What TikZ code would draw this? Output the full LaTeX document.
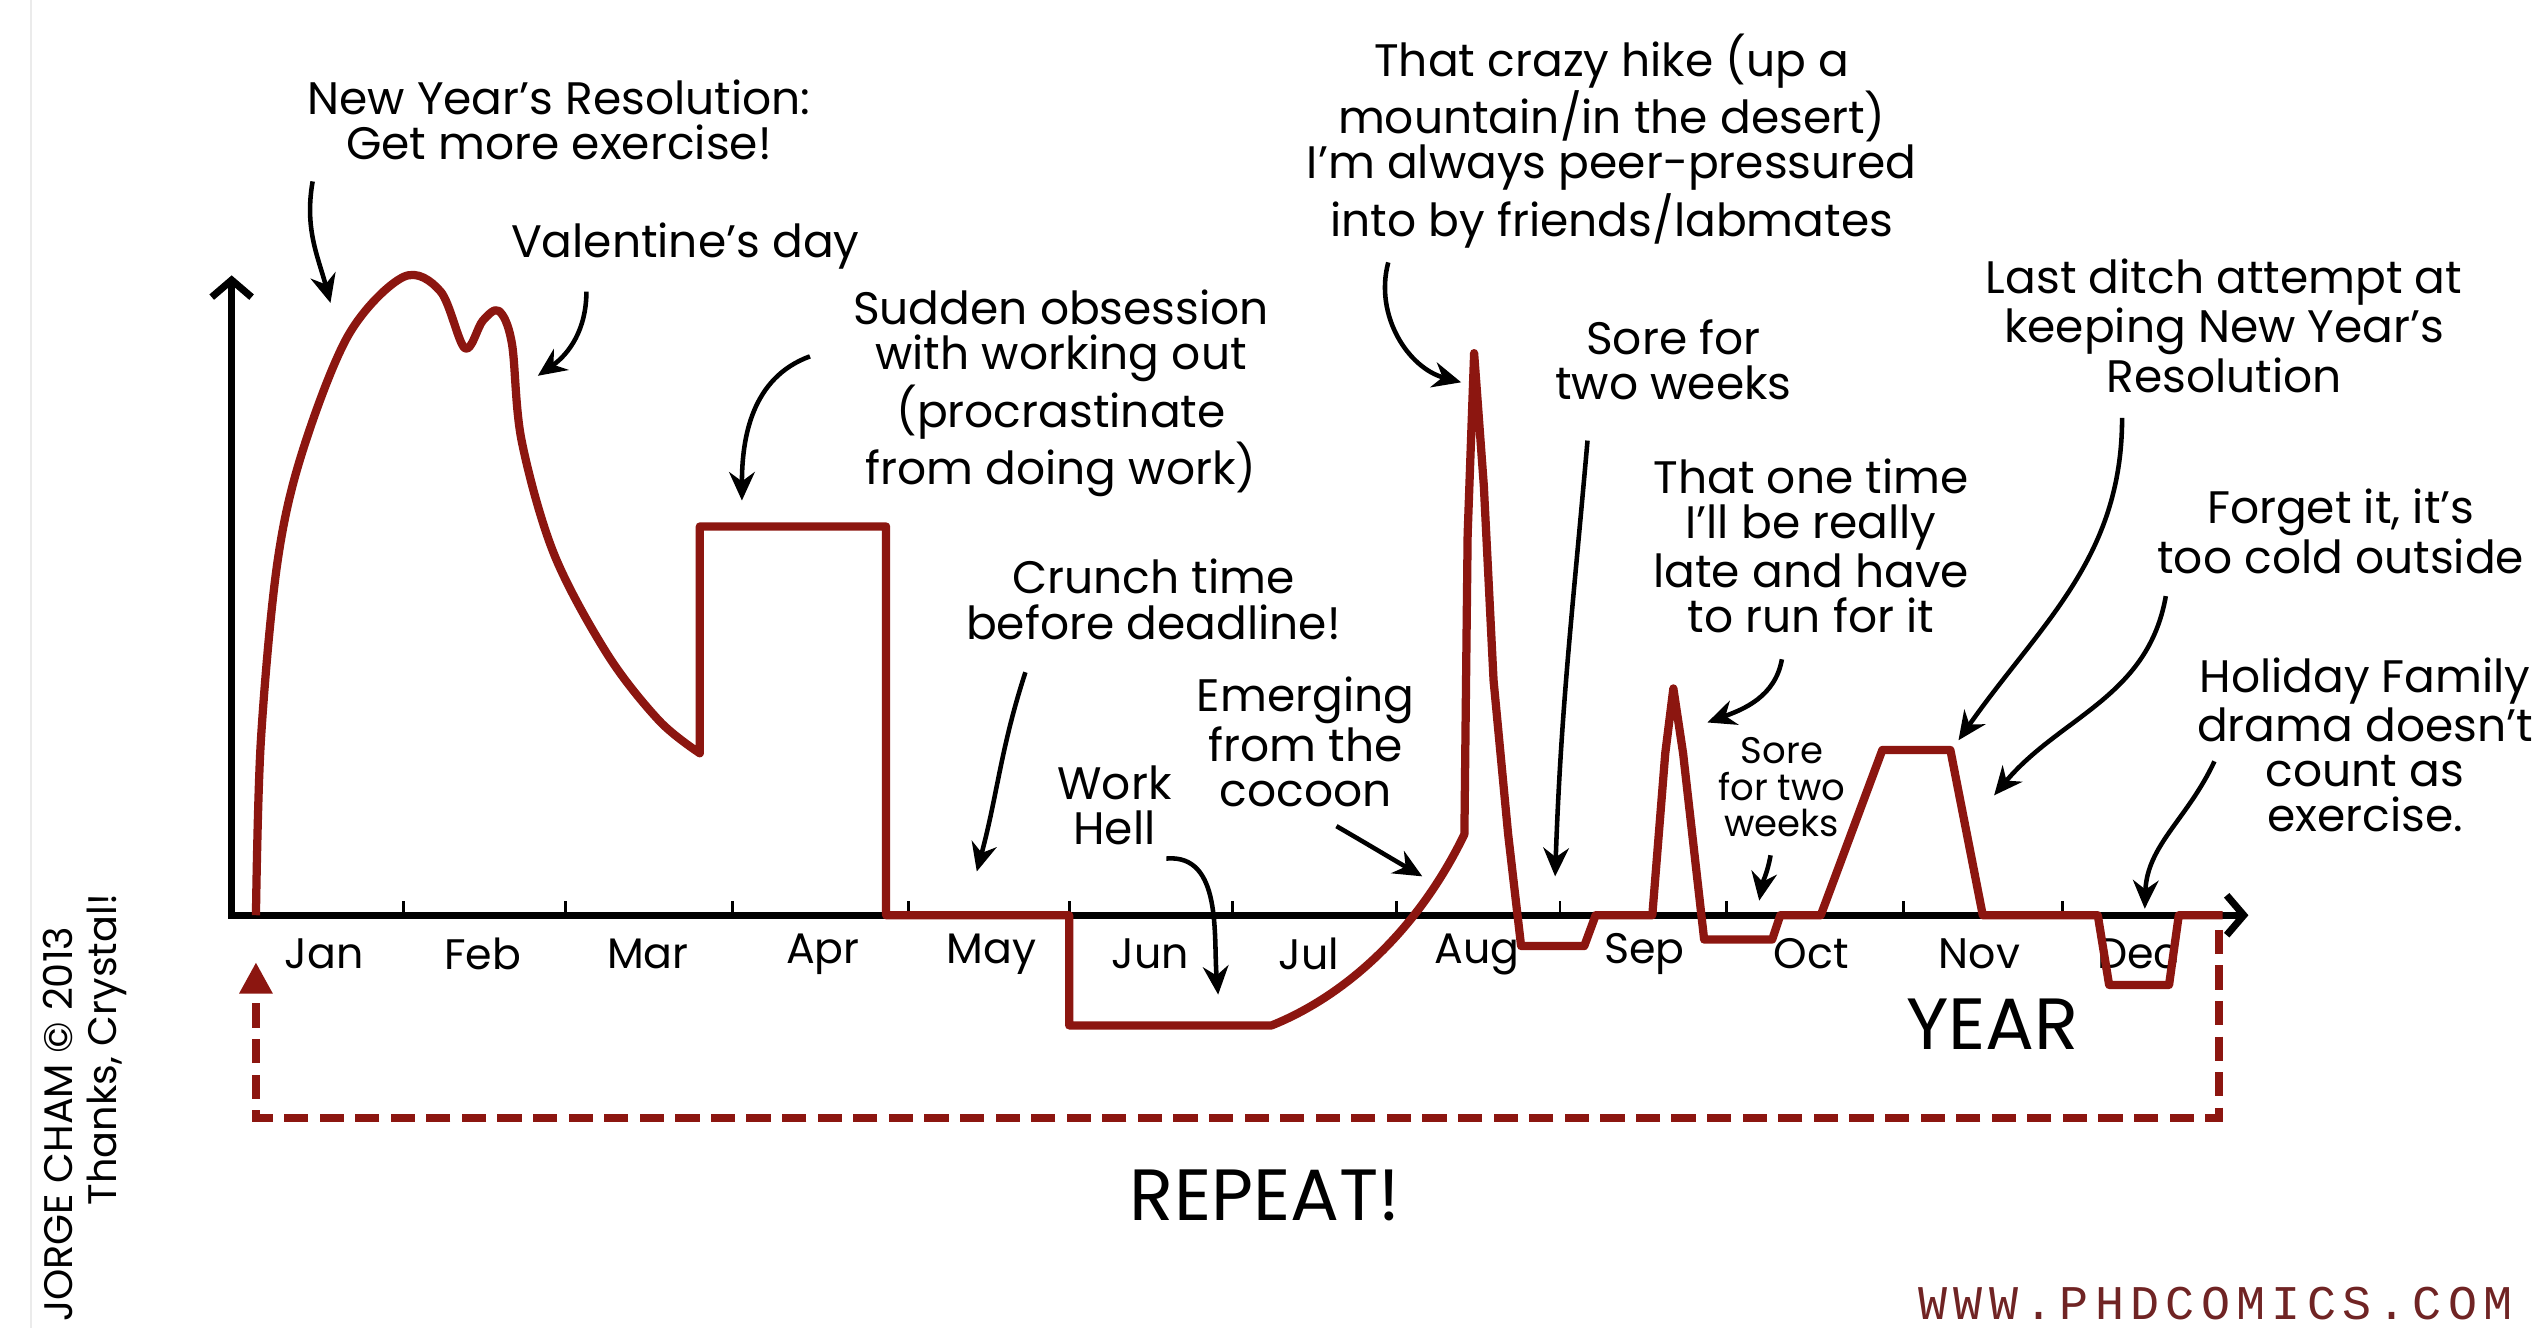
\documentclass[tikz,border=0pt]{standalone}
\usepackage{fontspec}
\setmainfont{Poppins}
\newfontfamily\urlfont[LetterSpace=13]{Liberation Mono}
\usetikzlibrary{arrows.meta}
\definecolor{phdred}{RGB}{140,22,16}
\definecolor{urlred}{RGB}{112,36,36}
\newcommand\notesize{\fontsize{16}{15.9}\selectfont}
\newcommand\monthsize{\fontsize{15}{16}\selectfont}
\newcommand\smallnote{\fontsize{13}{12.8}\selectfont}
\newcommand\bigsize{\fontsize{25.5}{27}\selectfont}
\newcommand\creditsize{\fontsize{14}{15}\selectfont}
\newcommand\thankssize{\fontsize{14}{15}\selectfont}

\begin{document}
\begin{tikzpicture}[x=0.02cm, y=-0.02cm,
    note/.style={align=center, font=\notesize, inner sep=1pt},
    month/.style={font=\monthsize, inner sep=1pt},
    big/.style={font=\bigsize, inner sep=1pt},
    credit/.style={font=\creditsize, inner sep=1pt},
    pointer/.style={line width=1.6pt, -{Stealth[length=10pt,width=9pt]}},
    axisline/.style={line width=2.5pt, {Straight Barb[length=6pt,width=14pt]}-{Straight Barb[length=6pt,width=14pt]}},
    tick/.style={line width=1pt},
    habit/.style={phdred, line width=2.9pt, line join=round},
    repeatline/.style={phdred, line width=2.9pt, dash pattern=on 8.5pt off 4pt, -{Triangle[length=11pt,width=11pt]}}]

  \clip (0,0) rectangle (1568,820);
  \fill[white] (0,0) rectangle (1568,820);
  \draw[black!8, line width=0.8pt] (19,0) -- (19,820);

  % axes
  \coordinate (origin) at (143,565);
  \coordinate (ytop) at (143,170);
  \coordinate (xend) at (1388,565);
  \draw[axisline] (ytop) -- (origin) -- (xend);
  \foreach \x in {249,349,452,561,660,761,862,963,1066,1175,1273}
    \draw[tick] (\x,565) -- (\x,556);
  \foreach \m/\x in {Jan/200,Feb/298,Mar/400,Apr/508,May/612,Jun/710,Jul/808,Aug/912,Sep/1015,Oct/1118,Nov/1222,Dec/1320}
    \node[month] (\m) at (\x,589) {\m};
  \node[big] (year) at (1230,632) {YEAR};

  % the year in exercise
  \draw[habit] plot[smooth, tension=0.55] coordinates {(158,565) (161,458) (171,349) (186,281) (215,207) (249,171) (272,180) (287,215) (298,198) (308,192) (316,212) (322,272) (342,342) (375,404) (407,445) (432,465)}
    -- (432,325) -- (547,325) -- (547,565) -- (660,565) -- (660,633) -- (785,633)
    .. controls (830,615) and (875,575) .. (904,515)
    -- (906,330) -- (910,218) -- (916,300) -- (922,420) -- (931,515) -- (939,584)
    -- (978,584) -- (985,565) -- (1020,565) -- (1028,465) -- (1033,425) -- (1039,465) -- (1052,580)
    -- (1094,580) -- (1099,565) -- (1124,565) -- (1162,463) -- (1204,463) -- (1224,565)
    -- (1295,565) -- (1302,608) -- (1339,608) -- (1345,565) -- (1372,565);

  % repeat loop
  \coordinate (loop-start) at (1370,574);
  \coordinate (loop-r) at (1370,690);
  \coordinate (loop-l) at (158,690);
  \coordinate (loop-end) at (158,594);
  \draw[repeatline] (loop-start) -- (loop-r) -- (loop-l) -- (loop-end);
  \node[big] (again) at (781,738) {REPEAT!};

  % notes
  \node[note] (resolution) at (345,74) {New Year's Resolution:\\Get more exercise!};
  \node[note] (valentine) at (423,152) {Valentine's day};
  \node[note] (obsession) at (655,243) {Sudden obsession\\with working out\\(procrastinate\\from doing work)};
  \node[note] (hike) at (995,87) {That crazy hike (up a\\mountain/in the desert)\\I'm always peer-pressured\\into by friends/labmates};
  \node[note] (sore) at (1033,222) {Sore for\\two weeks};
  \node[note] (late) at (1118,337) {That one time\\I'll be really\\late and have\\to run for it};
  \node[note] (lastditch) at (1373,201) {Last ditch attempt at\\keeping New Year's\\Resolution};
  \node[note] (forget) at (1445,328) {Forget it, it's\\too cold outside};
  \node[note] (holiday) at (1460,460) {Holiday Family\\drama doesn't\\count as\\exercise.};
  \node[note] (crunch) at (712,370) {Crunch time\\before deadline!};
  \node[note] (workhell) at (688,497) {Work\\Hell};
  \node[note] (cocoon) at (806,458) {Emerging\\from the\\cocoon};
  \node[note, font=\smallnote] (soresmall) at (1100,486) {Sore\\for two\\weeks};

  % pointers
  \coordinate (resolution-a) at (193,112);   \coordinate (resolution-b) at (204,187);
  \coordinate (valentine-a) at (362,180);    \coordinate (valentine-b) at (332,232);
  \coordinate (obsession-a) at (500,220);    \coordinate (obsession-b) at (458,309);
  \coordinate (hike-a) at (857,162);         \coordinate (hike-b) at (902,236);
  \coordinate (sore-a) at (980,272);         \coordinate (sore-b) at (960,541);
  \coordinate (late-a) at (1100,407);        \coordinate (late-b) at (1054,446);
  \coordinate (lastditch-a) at (1310,258);   \coordinate (lastditch-b) at (1209,457);
  \coordinate (forget-a) at (1337,368);      \coordinate (forget-b) at (1231,491);
  \coordinate (holiday-a) at (1367,470);     \coordinate (holiday-b) at (1324,561);
  \coordinate (crunch-a) at (633,415);       \coordinate (crunch-b) at (603,538);
  \coordinate (workhell-a) at (720,530);     \coordinate (workhell-b) at (752,614);
  \coordinate (cocoon-a) at (825,510);       \coordinate (cocoon-b) at (878,541);
  \coordinate (soresmall-a) at (1093,528);   \coordinate (soresmall-b) at (1086,556);
  \foreach \n/\o/\i in {resolution/-100/105, valentine/-90/35, obsession/200/90, hike/-105/165,
      sore/-95/88, late/-100/20, lastditch/-90/55, forget/-100/50, holiday/-115/88,
      crunch/-108/75, workhell/5/95, cocoon/-30/150, soresmall/-100/80}
    \draw[pointer] (\n-a) to[out=\o, in=\i] (\n-b);

  % credits
  \node[credit, rotate=90, anchor=east] (author) at (36,570) {JORGE CHAM © 2013};
  \node[credit, font=\thankssize, rotate=90] (thanks) at (66,648) {Thanks, Crystal!};
  \node[anchor=west, font=\urlfont\fontsize{17}{18}\selectfont, text=urlred, inner sep=0pt] (url) at (1184,805) {WWW.PHDCOMICS.COM};
\end{tikzpicture}
\end{document}
